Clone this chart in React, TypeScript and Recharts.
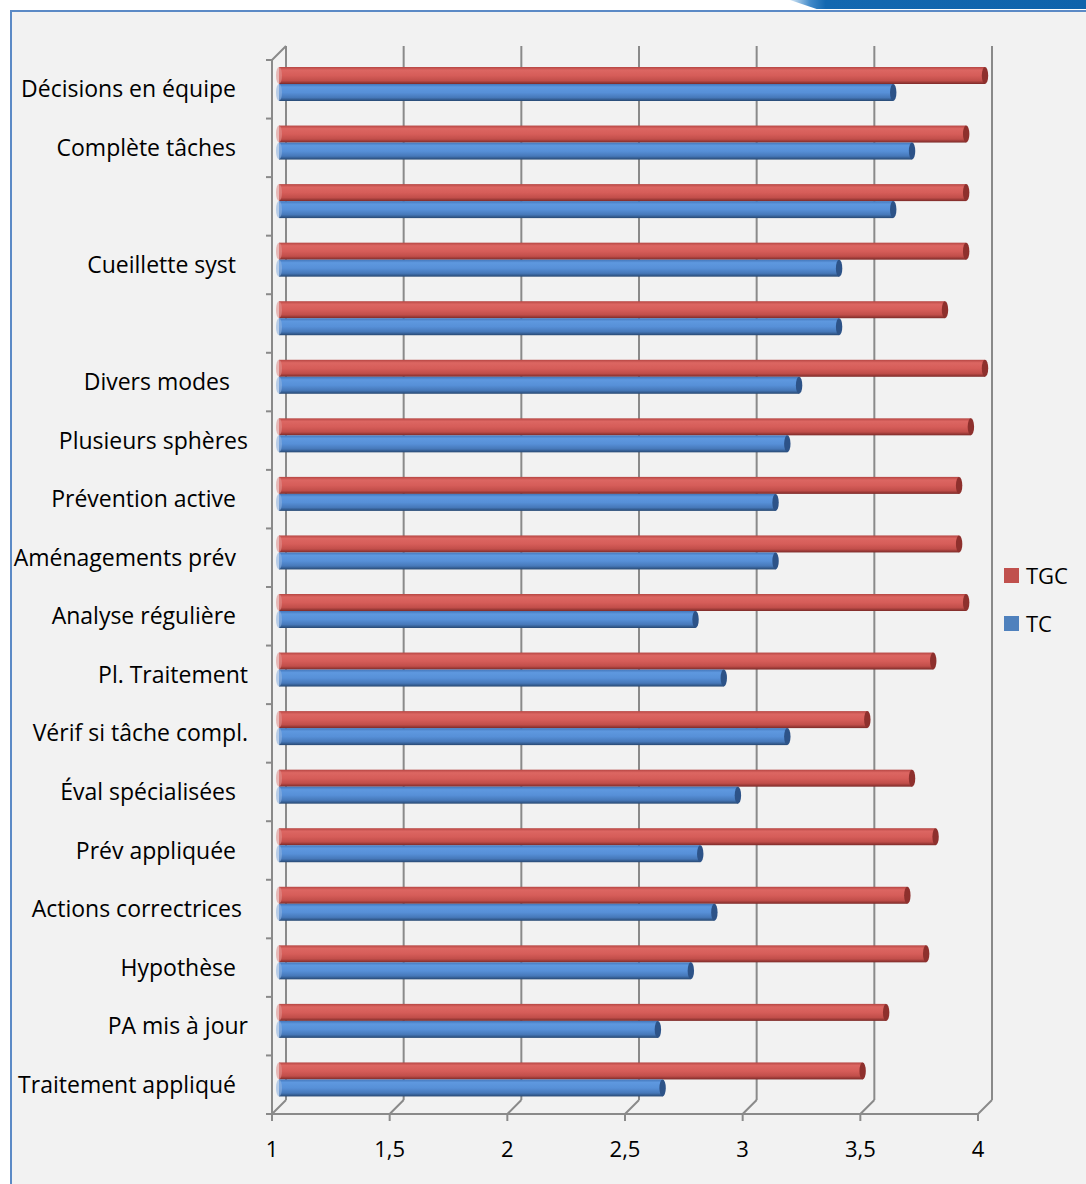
import React from "react";
import { BarChart, Bar, XAxis, YAxis, CartesianGrid, Legend } from "recharts";

// ---- data ----
const categories = [
  "Décisions en équipe  ",
  "Complète tâches  ",
  "",
  "Cueillette syst  ",
  "",
  "Divers modes   ",
  "Plusieurs sphères",
  "Prévention active  ",
  "Aménagements prév  ",
  "Analyse régulière  ",
  "Pl. Traitement",
  "Vérif si tâche compl.",
  "Éval spécialisées  ",
  "Prév appliquée  ",
  "Actions correctrices ",
  "Hypothèse  ",
  "PA mis à jour",
  "Traitement appliqué  ",
];
const tgcValues = [4.0, 3.92, 3.92, 3.92, 3.83, 4.0, 3.94, 3.89, 3.89, 3.92, 3.78, 3.5, 3.69, 3.79, 3.67, 3.75, 3.58, 3.48];
const tcValues = [3.61, 3.69, 3.61, 3.38, 3.38, 3.21, 3.16, 3.11, 3.11, 2.77, 2.89, 3.16, 2.95, 2.79, 2.85, 2.75, 2.61, 2.63];
const xTicks = [1, 1.5, 2, 2.5, 3, 3.5, 4];
const seriesNames = ["TGC", "TC"];

const data = categories.map((name, i) => ({ name, TGC: tgcValues[i], TC: tcValues[i] }));

// ---- layout / style ----
const W = 1086;
const H = 1184;
const MARGIN = { top: 60, right: 108, bottom: 0, left: 10 };
const Y_AXIS_W = 262;
const X_AXIS_H = 70;
const PLOT_H = H - MARGIN.top - MARGIN.bottom - X_AXIS_H;
const BAND = PLOT_H / categories.length;
const DEPTH = 14;
const BAR_DX = 7;
const BAR_DY = -5;
const GRID = "#8a8a8a";
const FONT = "'Open Sans', Lato, sans-serif";
const LABEL_SIZE = 23;
const TICK_SIZE = 22;
const SPACE_W = 6;

const COLORS: Record<string, { legend: string; stops: string[]; capDark: string; capLight: string }> = {
  TGC: {
    legend: "#c0504d",
    stops: ["#b64643", "#dc6662", "#d65d59", "#c14e4a", "#7c2a28"],
    capDark: "#8e302d",
    capLight: "#e0918e",
  },
  TC: {
    legend: "#4f81bd",
    stops: ["#4376ba", "#5e98df", "#5790d8", "#4678b9", "#274872"],
    capDark: "#2d5388",
    capLight: "#8fb2e0",
  },
};

const makeCylinder = (key: string) => (props: any) => {
  const { x, y, width, height } = props;
  if (width == null || height == null) return <g />;
  const bx = x + BAR_DX;
  const by = y + BAR_DY;
  const c = COLORS[key];
  return (
    <g>
      <rect x={bx} y={by} width={Math.max(width, 0)} height={height} fill={`url(#grad-${key})`} />
      <ellipse cx={bx} cy={by + height / 2} rx={3} ry={height / 2} fill={c.capLight} opacity={0.6} />
      <ellipse cx={bx + width} cy={by + height / 2} rx={3.2} ry={height / 2} fill={c.capDark} />
    </g>
  );
};

const XTick = (props: any) => {
  const { x, y, payload } = props;
  const label = String(payload.value).replace(".", ",");
  return (
    <g>
      <line x1={x} y1={y} x2={x} y2={y + 7} stroke={GRID} strokeWidth={2} />
      <text x={x} y={y + 43} textAnchor="middle" fontFamily={FONT} fontSize={TICK_SIZE} fill="#000">
        {label}
      </text>
    </g>
  );
};

const YTick = (props: any) => {
  const { x, y, payload, index } = props;
  const raw = String(payload.value ?? "");
  const trimmed = raw.replace(/\s+$/, "");
  const trailing = raw.length - trimmed.length;
  const top = y - BAND / 2;
  return (
    <g>
      <line x1={x - 6} y1={top} x2={x} y2={top} stroke={GRID} strokeWidth={2} />
      {index === categories.length - 1 && (
        <line x1={x - 6} y1={y + BAND / 2} x2={x} y2={y + BAND / 2} stroke={GRID} strokeWidth={2} />
      )}
      {index === 0 && <line x1={x} y1={top} x2={x + DEPTH} y2={top - DEPTH} stroke={GRID} strokeWidth={2} />}
      {trimmed && (
        <text
          x={x - 24 - trailing * SPACE_W}
          y={y}
          dy="0.35em"
          textAnchor="end"
          fontFamily={FONT}
          fontSize={LABEL_SIZE}
          fill="#000"
        >
          {trimmed}
        </text>
      )}
    </g>
  );
};

const gridLine = (p: any) => {
  const { x1, y1, x2, y2 } = p;
  return (
    <g key={p.key ?? `v-${x1}`}>
      <line x1={x1 + DEPTH} y1={y1 - DEPTH} x2={x2 + DEPTH} y2={y2 - DEPTH} stroke={GRID} strokeWidth={2} />
      <line x1={x1} y1={y2} x2={x1 + DEPTH} y2={y2 - DEPTH} stroke={GRID} strokeWidth={2} />
    </g>
  );
};

const LegendContent = (props: any) => {
  const payload = [...(props.payload || [])].sort(
    (a: any, b: any) => seriesNames.indexOf(a.value) - seriesNames.indexOf(b.value)
  );
  return (
    <div style={{ fontFamily: FONT, fontSize: TICK_SIZE, color: "#000" }}>
      {payload.map((e: any) => (
        <div key={e.value} style={{ display: "flex", alignItems: "center", height: 48 }}>
          <div style={{ width: 15, height: 15, background: COLORS[e.value]?.legend ?? e.color, marginRight: 7 }} />
          <span>{e.value}</span>
        </div>
      ))}
    </div>
  );
};

export default function App() {
  return (
    <div style={{ position: "absolute", left: 0, top: 0, width: W, height: H, background: "#fff", overflow: "hidden" }}>
      <div
        style={{
          position: "absolute",
          left: 790,
          top: 0,
          width: 296,
          height: 9,
          background: "linear-gradient(to right, #d6e8f6 0%, #3f88c8 7%, #1368b0 12%, #0f63ab 100%)",
          clipPath: "polygon(0 0, 100% 0, 100% 100%, 9% 100%)",
        }}
      />
      <div
        style={{
          position: "absolute",
          left: 10,
          top: 10,
          width: W + 20,
          height: H + 20,
          background: "#f2f2f2",
          border: "2px solid #5b8ac6",
          boxSizing: "border-box",
        }}
      />
      <div style={{ position: "absolute", left: 0, top: 0 }}>
        <BarChart
          width={W}
          height={H}
          data={data}
          layout="vertical"
          margin={MARGIN}
          barGap={0}
          barCategoryGap="21%"
        >
          <defs>
            {seriesNames.map((k) => (
              <linearGradient key={k} id={`grad-${k}`} x1="0" y1="0" x2="0" y2="1">
                <stop offset="0%" stopColor={COLORS[k].stops[0]} />
                <stop offset="18%" stopColor={COLORS[k].stops[1]} />
                <stop offset="50%" stopColor={COLORS[k].stops[2]} />
                <stop offset="80%" stopColor={COLORS[k].stops[3]} />
                <stop offset="100%" stopColor={COLORS[k].stops[4]} />
              </linearGradient>
            ))}
          </defs>
          <CartesianGrid horizontal={false} vertical={gridLine} />
          <XAxis
            type="number"
            domain={[1, 4]}
            ticks={xTicks}
            height={X_AXIS_H}
            tickSize={0}
            tickMargin={0}
            tickLine={false}
            axisLine={{ stroke: GRID, strokeWidth: 2 }}
            tick={XTick}
            interval={0}
          />
          <YAxis
            type="category"
            dataKey="name"
            width={Y_AXIS_W}
            tickSize={0}
            tickMargin={0}
            tickLine={false}
            axisLine={{ stroke: GRID, strokeWidth: 2 }}
            tick={YTick}
            interval={0}
          />
          <Legend
            layout="vertical"
            align="center"
            verticalAlign="middle"
            wrapperStyle={{ left: 1004, top: 551, width: 80 }}
            content={LegendContent}
          />
          <Bar dataKey="TGC" name="TGC" barSize={17} fill={COLORS.TGC.legend} shape={makeCylinder("TGC")} isAnimationActive={false} />
          <Bar dataKey="TC" name="TC" barSize={17} fill={COLORS.TC.legend} shape={makeCylinder("TC")} isAnimationActive={false} />
        </BarChart>
      </div>
    </div>
  );
}
